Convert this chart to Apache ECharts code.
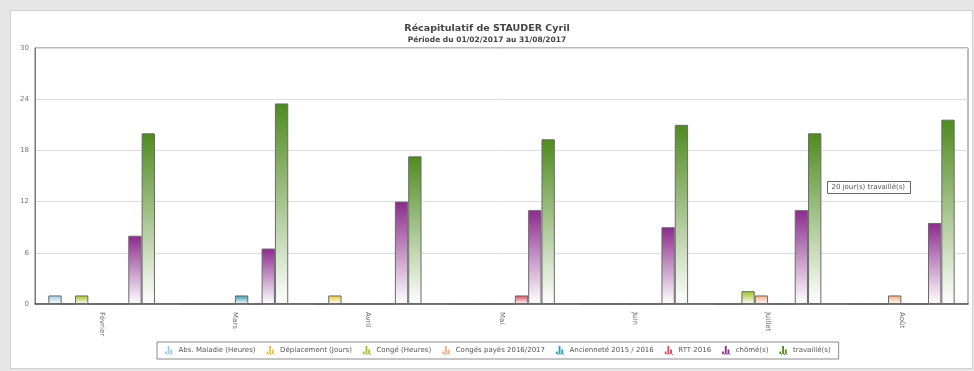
<!DOCTYPE html>
<html>
<head>
<meta charset="utf-8">
<script src="https://cdn.jsdelivr.net/npm/echarts@6/dist/echarts.min.js"></script>
<style>
	html, body { margin: 0; padding: 0; background: #e6e6e6; }
	#panel { position: absolute; left: 10px; top: 10px; width: 961px; height: 357px; background: #fff; border: 1px solid #d0d0d0; }
	#main { position: absolute; left: 0; top: 0; width: 974px; height: 371px; }
</style>
</head>
<body>
<div id="panel"></div>
<div id="main"></div>
<script>
// mois affichés
var mois = [ 'Février', 'Mars', 'Avril', 'Mai', 'Juin', 'Juillet', 'Août' ];

// valeurs par type d'absence / présence
var absMaladie = [ 1, 0, 0, 0, 0, 0, 0 ];
var deplacement = [ 0, 0, 1, 0, 0, 0, 0 ];
var congeHeures = [ 1, 0, 0, 0, 0, 1.5, 0 ];
var congesPayes = [ 0, 0, 0, 0, 0, 1, 1 ];
var anciennete = [ 0, 1, 0, 0, 0, 0, 0 ];
var rtt = [ 0, 0, 0, 1, 0, 0, 0 ];
var chome = [ 8, 6.5, 12, 11, 9, 11, 9.5 ];
var travaille = [ 20, 23.5, 17.3, 19.3, 21, 20, 21.6 ];

var noms = [ 'Abs. Maladie (Heures)', 'Déplacement (Jours)', 'Congé (Heures)',
		'Congés payés 2016/2017', 'Ancienneté 2015 / 2016', 'RTT 2016',
		'chômé(s)', 'travaillé(s)' ];
var valeurs = [ absMaladie, deplacement, congeHeures, congesPayes, anciennete,
		rtt, chome, travaille ];
var couleurs = [ '#9fcbe6', '#e9c43a', '#9cc31e', '#f5a77c', '#2b9bb0',
		'#d9475a', '#8b2a8c', '#4f8b1f' ];

function degrade(c) {
	return new echarts.graphic.LinearGradient(0, 0, 0, 1, [ {
		offset : 0,
		color : c
	}, {
		offset : 1,
		color : '#ffffff'
	} ]);
}

var series = [];
for ( var i = 0; i < noms.length; i++) {
	series.push({
		name : noms[i],
		type : 'bar',
		data : valeurs[i],
		barGap : '0%',
		barCategoryGap : '20%',
		itemStyle : {
			color : degrade(couleurs[i]),
			borderColor : '#6a6a6a',
			borderWidth : 1
		}
	});
}

// petite icône "histogramme" de la légende
var legendData = [];
for ( var i = 0; i < noms.length; i++) {
	legendData.push({
		name : noms[i],
		icon : 'path://M0,10L0,6L2,6L2,10ZM3,10L3,0L5,0L5,10ZM6,10L6,4L8,4L8,10ZM0,10L9,10L9,9L0,9Z',
		itemStyle : { color : couleurs[i], borderWidth : 0 }
	});
}

var myChart = echarts.init(document.getElementById('main'));
var option = {
	animation : false,
	textStyle : { fontFamily : 'DejaVu Sans' },
	title : {
		text : 'Récapitulatif de STAUDER Cyril',
		subtext : 'Période du 01/02/2017 au 31/08/2017',
		left : 'center',
		top : 19,
		itemGap : 2,
		textStyle : { fontSize : 9.5, fontWeight : 'bold', color : '#444' },
		subtextStyle : { fontSize : 7.5, fontWeight : 'bold', color : '#444' }
	},
	legend : {
		data : legendData,
		bottom : 12,
		left : 157,
		itemWidth : 9,
		itemHeight : 9,
		itemGap : 11,
		padding : [ 4, 8 ],
		borderColor : '#8a8a8a',
		borderWidth : 1,
		textStyle : { fontSize : 7, color : '#555' }
	},
	grid : {
		left : 35,
		right : 6,
		top : 48,
		bottom : 67,
		show : true,
		borderColor : '#777',
		borderWidth : 1
	},
	xAxis : {
		type : 'category',
		data : mois,
		axisLine : { lineStyle : { color : '#555', width : 1.5 } },
		axisTick : { show : false },
		axisLabel : { rotate : -90, fontSize : 7, color : '#666', margin : 8 }
	},
	yAxis : {
		type : 'value',
		min : 0,
		max : 30,
		interval : 6,
		axisLine : { show : true, lineStyle : { color : '#777' } },
		axisLabel : { fontSize : 7, color : '#777', margin : 6 },
		splitLine : { lineStyle : { color : '#dcdcdc' } }
	},
	graphic : [ {
		type : 'group',
		left : 827,
		top : 181,
		children : [ {
			type : 'rect',
			shape : { x : 0, y : 0, width : 83, height : 12 },
			style : { fill : '#fff', stroke : '#666', lineWidth : 1 }
		}, {
			type : 'text',
			x : 4,
			y : 2.5,
			style : { text : '20 jour(s) travaillé(s)', fontSize : 7, fill : '#555', fontFamily : 'DejaVu Sans' }
		} ]
	} ],
	series : series
};
myChart.setOption(option);
</script>
</body>
</html>
